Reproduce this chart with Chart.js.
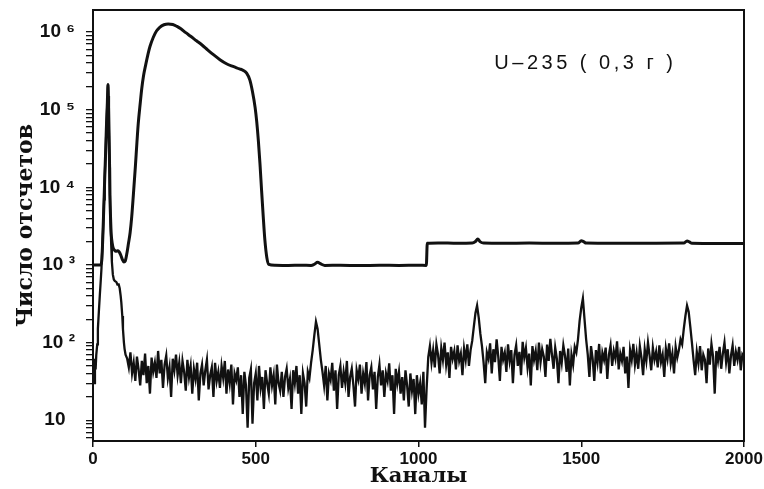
<!DOCTYPE html>
<html>
<head>
<meta charset="utf-8">
<script src="https://cdn.jsdelivr.net/npm/chart.js@4.4.1/dist/chart.umd.min.js"></script>
<style>
  html, body { margin: 0; padding: 0; background: #fff; }
  #wrap { width: 764px; height: 489px; }
</style>
</head>
<body>
<div id="wrap"><canvas id="spec"></canvas></div>
<script>
// axis ticks
var xTicks = [0, 500, 1000, 1500, 2000];
var yMajorVals = [10, 100, 1000, 10000, 100000, 1000000];
var yMajorLabels = ["10\u2002", "10 \u00b2", "10 \u00b3", "10 \u2074", "10 \u2075", "10 \u2076"];

// upper spectrum (smooth, thick)
var upCh = [0, 12, 24, 27, 29, 31, 34, 36, 39, 41, 44, 46, 47, 49, 51, 52, 54, 56, 59, 62,
    66, 70, 75, 80, 85, 90, 95, 99, 104, 109, 114, 119, 124, 130, 135, 139, 145, 150, 155, 162,
    169, 175, 185, 195, 205, 218, 231, 245, 258, 270, 285, 300, 318, 335, 352, 370, 390, 410, 430, 450,
    462, 472, 482, 490, 498, 503, 508, 513, 518, 523, 528, 534, 540, 560, 600, 640, 670, 680, 690, 700,
    712, 760, 820, 880, 940, 1000, 1024, 1027, 1060, 1120, 1165, 1175, 1182, 1190, 1200, 1260, 1340, 1420, 1490, 1500,
    1507, 1515, 1600, 1700, 1815, 1825, 1832, 1840, 1920, 2000];
var upCounts = [1000, 1000, 1000, 1150, 1700, 2900, 7000, 13000, 30000, 56000, 120000, 210000, 150000, 56000, 18000, 8000, 4000, 2500, 1900, 1650,
    1550, 1500, 1520, 1480, 1350, 1180, 1090, 1120, 1400, 1900, 2600, 4200, 8000, 18000, 38000, 66000, 120000, 190000, 270000, 380000,
    520000, 650000, 850000, 1030000, 1150000, 1240000, 1270000, 1250000, 1180000, 1100000, 980000, 880000, 770000, 680000, 590000, 510000, 440000, 390000, 360000, 335000,
    320000, 295000, 240000, 170000, 107000, 70000, 40000, 20000, 9000, 4200, 2100, 1250, 1020, 990, 985, 990, 985, 1020, 1080, 1030,
    985, 990, 980, 990, 985, 990, 985, 1900, 1920, 1900, 1910, 2000, 2150, 1980, 1910, 1900, 1910, 1900, 1910, 2050,
    2000, 1910, 1900, 1900, 1910, 2040, 1980, 1900, 1890, 1890];

// lower spectrum, start of the run (peak near channel 46)
var lowHeadCh = [0, 2, 4, 6, 8, 10, 13, 15, 18, 21, 24, 26, 29, 31, 34, 36, 39, 41, 44, 46,
    47, 49, 51, 52, 54, 56, 58, 61, 64, 67, 72, 75, 79, 82, 85, 87, 90, 92, 95, 97];
var lowHeadCounts = [38, 55, 30, 62, 45, 69, 95, 150, 250, 410, 650, 900, 1800, 2900, 7000, 13000, 30000, 56000, 120000, 210000,
    150000, 56000, 18000, 8000, 3500, 1800, 1100, 750, 650, 620, 600, 560, 560, 500, 400, 330, 220, 150, 100, 83];

// lower spectrum, channels 100..1025, every 5 channels
var noiseAStart = 100;
var noiseA = [70, 62, 48, 75, 40, 55, 32, 66, 45, 28,
    58, 38, 72, 30, 50, 22, 64, 42, 55, 35,
    78, 40, 60, 26, 52, 68, 35, 48, 20, 62,
    44, 70, 38, 55, 30, 58, 42, 24, 60, 36,
    50, 22, 46, 34, 55, 18, 40, 52, 28, 44,
    60, 25, 38, 48, 20, 55, 32, 42, 26, 50,
    35, 58, 22, 45, 30, 52, 16, 40, 33, 48,
    20, 38, 12, 42, 28, 8, 35, 45, 9, 30,
    40, 18, 50, 26, 36, 14, 44, 30, 22, 48,
    28, 38, 16, 52, 30, 24, 42, 20, 36, 46,
    26, 34, 14, 44, 30, 50, 22, 38, 12, 40,
    30, 15, 42, 35, 55, 80, 125, 186, 150, 95,
    60, 42, 28, 50, 18, 40, 33, 55, 24, 44,
    14, 38, 50, 26, 42, 30, 58, 20, 36, 46,
    28, 15, 44, 34, 52, 22, 40, 30, 56, 18,
    38, 48, 25, 42, 14, 36, 52, 28, 44, 20,
    40, 32, 54, 24, 38, 12, 46, 30, 42, 22,
    36, 18, 44, 28, 15, 40, 24, 34, 12, 38,
    22, 30, 16, 42, 8, 26];

// lower spectrum, channels 1030..2000, every 5 channels
var noiseBStart = 1030;
var noiseB = [65, 90, 55, 80, 48, 95, 70, 40, 85, 60,
    100, 52, 75, 35, 88, 62, 78, 45, 92, 58,
    72, 38, 84, 60, 95, 50, 80, 105, 160, 240,
    300, 210, 130, 90, 55, 30, 75, 62, 98, 40,
    82, 56, 110, 66, 32, 88, 60, 74, 42, 95,
    58, 80, 30, 70, 92, 50, 76, 38, 102, 64,
    85, 48, 72, 28, 90, 60, 78, 44, 100, 56,
    82, 66, 36, 94, 58, 112, 70, 46, 86, 62,
    30, 78, 55, 92, 68, 42, 84, 28, 70, 52,
    88, 75, 110, 190, 280, 370, 200, 110, 70, 36,
    90, 62, 32, 80, 56, 96, 40, 74, 60, 86,
    34, 70, 92, 50, 78, 62, 104, 45, 72, 58,
    88, 40, 66, 26, 80, 60, 96, 52, 74, 46,
    90, 64, 38, 82, 58, 100, 68, 44, 86, 60,
    76, 48, 92, 56, 70, 36, 84, 62, 98, 54,
    72, 40, 88, 64, 80, 110, 95, 150, 220, 300,
    250, 160, 100, 60, 38, 76, 54, 90, 44, 70,
    60, 30, 84, 52, 96, 66, 22, 78, 58, 88,
    46, 72, 100, 56, 82, 40, 68, 92, 50, 76,
    60, 88, 44, 70, 64];
var noiseStep = 5;

// annotation
var sampleLabel = "U\u2013235 ( 0,3 \u0433 )";

function pairs(ch, counts) {
    return ch.map(function (c, i) { return {x: c, y: counts[i]}; });
}

function noisePairs(start, counts) {
    return counts.map(function (v, i) { return {x: start + i * noiseStep, y: v}; });
}

var upperData = pairs(upCh, upCounts);
var lowerData = pairs(lowHeadCh, lowHeadCounts)
    .concat(noisePairs(noiseAStart, noiseA))
    .concat(noisePairs(noiseBStart, noiseB));

var paperPlugin = {
    id: "paper",
    beforeDraw: function (chart) {
        var ctx = chart.ctx;
        ctx.save();
        ctx.fillStyle = "#ffffff";
        ctx.fillRect(0, 0, chart.width, chart.height);
        ctx.restore();
    },
    afterDraw: function (chart) {
        var ctx = chart.ctx;
        var a = chart.chartArea;
        ctx.save();
        // frame
        ctx.strokeStyle = "#111";
        ctx.lineWidth = 2;
        ctx.strokeRect(a.left, a.top, a.right - a.left, a.bottom - a.top);
        // sample label
        ctx.fillStyle = "#111";
        ctx.font = '20px "Liberation Sans", Arial, sans-serif';
        ctx.letterSpacing = "3.5px";
        ctx.textAlign = "left";
        ctx.textBaseline = "alphabetic";
        ctx.fillText(sampleLabel, chart.scales.x.getPixelForValue(1233), chart.scales.y.getPixelForValue(330000));
        ctx.restore();
    }
};

new Chart("spec", {
    type: "line",
    data: {
        datasets: [{
            data: upperData,
            borderColor: "#111",
            borderWidth: 3,
            pointRadius: 0,
            cubicInterpolationMode: "monotone",
            fill: false
        }, {
            data: lowerData,
            borderColor: "#111",
            borderWidth: 2.3,
            pointRadius: 0,
            tension: 0,
            fill: false
        }]
    },
    options: {
        responsive: true,
        maintainAspectRatio: false,
        animation: false,
        events: [],
        layout: { padding: { top: 10, right: 20, left: 0, bottom: 0 } },
        plugins: { legend: { display: false }, tooltip: { enabled: false } },
        scales: {
            x: {
                type: "linear",
                min: 0,
                max: 2000,
                afterBuildTicks: function (scale) {
                    scale.ticks = xTicks.map(function (v) { return {value: v}; });
                },
                afterFit: function (scale) {
                    scale.height = 48;
                    scale.paddingLeft = 0;
                    scale.paddingRight = 0;
                },
                border: { display: false },
                grid: { drawOnChartArea: false, drawTicks: true, tickLength: 6, color: "#111", lineWidth: 1.5 },
                ticks: {
                    padding: 2,
                    color: "#111",
                    maxRotation: 0,
                    autoSkip: false,
                    font: { family: '"Liberation Sans", Arial, sans-serif', size: 17, weight: "bold" },
                    callback: function (v) { return String(v); }
                },
                title: {
                    display: true,
                    text: "Каналы",
                    color: "#111",
                    padding: { top: 0, bottom: 0 },
                    font: { family: '"DejaVu Serif", serif', size: 21, weight: "bold" }
                }
            },
            y: {
                type: "logarithmic",
                min: 5.4,
                max: 1920000,
                afterBuildTicks: function (scale) {
                    var t = [];
                    for (var e = 0; e <= 6; e++) {
                        for (var m = 1; m <= 9; m++) {
                            var v = m * Math.pow(10, e);
                            if (v >= scale.min && v <= scale.max) t.push({value: v, major: m === 1});
                        }
                    }
                    scale.ticks = t;
                },
                afterFit: function (scale) {
                    scale.width = 93;
                    scale.paddingTop = 0;
                    scale.paddingBottom = 0;
                },
                border: { display: false },
                grid: { drawOnChartArea: false, drawTicks: true, tickLength: 7, color: "#111", lineWidth: 1.3 },
                ticks: {
                    padding: 11,
                    color: "#111",
                    autoSkip: false,
                    font: { family: '"Liberation Sans", Arial, sans-serif', size: 19, weight: "bold" },
                    callback: function (v) {
                        var k = yMajorVals.indexOf(v);
                        return k >= 0 ? yMajorLabels[k] : "";
                    }
                },
                title: {
                    display: true,
                    text: "Число отсчетов",
                    color: "#111",
                    padding: { top: 13, bottom: 0 },
                    font: { family: '"DejaVu Serif", serif', size: 22, weight: "bold" }
                }
            }
        }
    },
    plugins: [paperPlugin]
});
</script>
</body>
</html>
